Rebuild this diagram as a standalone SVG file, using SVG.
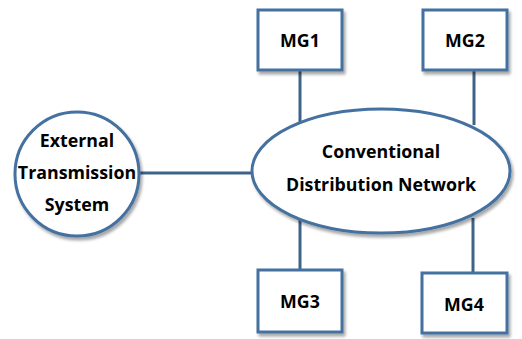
<svg xmlns="http://www.w3.org/2000/svg" width="522" height="339" viewBox="0 0 522 339">
<defs>
<filter id="sh" x="-10%" y="-10%" width="130%" height="130%">
<feGaussianBlur in="SourceAlpha" stdDeviation="1.5"/>
<feOffset dx="2" dy="2.5" result="b"/>
<feComponentTransfer><feFuncA type="linear" slope="0.35"/></feComponentTransfer>
<feMerge><feMergeNode/><feMergeNode in="SourceGraphic"/></feMerge>
</filter>
<style>
.n{fill:#fff;stroke:#4471A0;stroke-width:3;filter:url(#sh)}
.c{stroke:#3E6389;stroke-width:3;fill:none}
.t{font-family:"Open Sans","Liberation Sans",sans-serif;font-weight:bold;font-size:17.8px;fill:#000;text-anchor:middle}
</style>
</defs>
<rect width="522" height="339" fill="#fff"/>
<g id="connectors">
<line class="c" x1="139" y1="173" x2="253" y2="173"/>
<line class="c" x1="300" y1="70" x2="300" y2="125"/>
<line class="c" x1="474" y1="70" x2="474" y2="125"/>
<line class="c" x1="300" y1="218" x2="300" y2="270"/>
<line class="c" x1="473" y1="218" x2="473" y2="273"/>
</g>
<g id="ext">
<circle class="n" cx="77" cy="174" r="62"/>
<text class="t" x="77" y="147">External</text>
<text class="t" x="77" y="179">Transmission</text>
<text class="t" x="77" y="211">System</text>
</g>
<g id="cdn">
<ellipse class="n" cx="381" cy="171" rx="129" ry="62"/>
<text class="t" x="381" y="158">Conventional</text>
<text class="t" x="381" y="191">Distribution Network</text>
</g>
<g id="mg1">
<rect class="n" x="258" y="10" width="84" height="60"/>
<text class="t" x="300" y="47">MG1</text>
</g>
<g id="mg2">
<rect class="n" x="423" y="10" width="84" height="60"/>
<text class="t" x="465" y="47">MG2</text>
</g>
<g id="mg3">
<rect class="n" x="258" y="270" width="84" height="62"/>
<text class="t" x="300" y="308">MG3</text>
</g>
<g id="mg4">
<rect class="n" x="422" y="273" width="85" height="60"/>
<text class="t" x="464" y="311">MG4</text>
</g>
</svg>
